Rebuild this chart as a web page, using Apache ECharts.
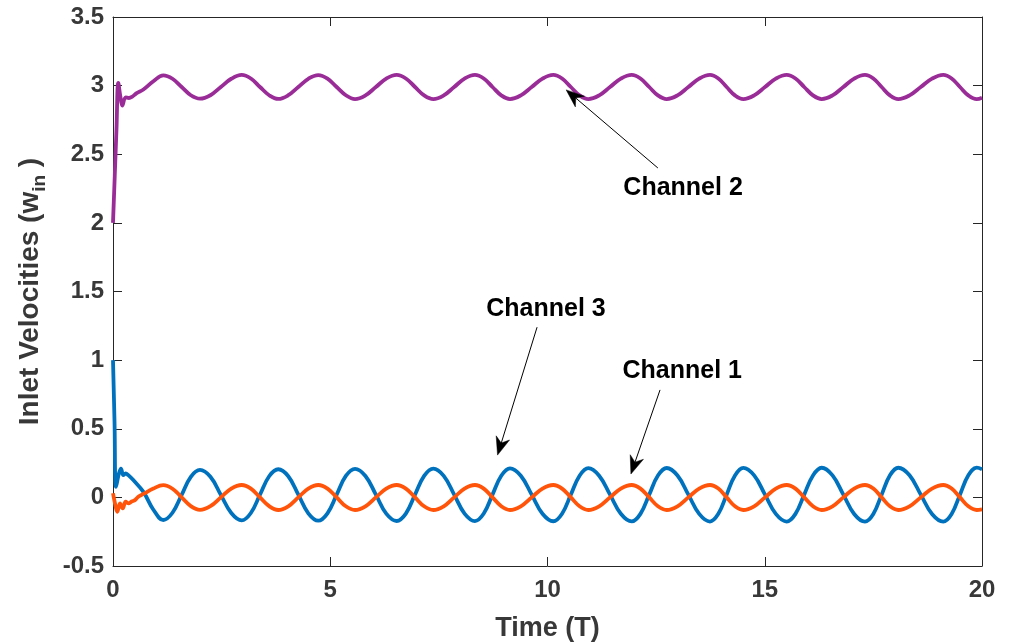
<!DOCTYPE html>
<html>
<head>
<meta charset="utf-8">
<title>Inlet Velocities</title>
<script src="https://cdn.jsdelivr.net/npm/echarts@6/dist/echarts.min.js"></script>
<style>
  html, body { margin: 0; padding: 0; background: #ffffff; }
  #chart { width: 1009px; height: 643px; }
</style>
</head>
<body>
<div id="chart"></div>
<script>
// Axis ticks
const xTicks = [0, 5, 10, 15, 20];
const yTicks = [-0.5, 0, 0.5, 1, 1.5, 2, 2.5, 3, 3.5];

// Start-up transient of each channel (time, value)
const ch1OnsetT = [0, 0.05, 0.099, 0.161, 0.223, 0.292, 0.352, 0.43, 0.506, 0.582, 0.70, 0.93];
const ch1OnsetV = [0.03, -0.05, -0.105, -0.044, -0.08, -0.032, -0.044, -0.03, -0.02, 0.005, 0.025, 0.065];

const ch2OnsetT = [0, 0.04, 0.08, 0.122, 0.17, 0.214, 0.292, 0.368, 0.444, 0.545, 0.70, 0.93];
const ch2OnsetV = [2.0, 2.34, 2.68, 3.02, 2.92, 2.855, 2.915, 2.91, 2.92, 2.945, 2.972, 3.032];

const ch3OnsetT = [0, 0.035, 0.07, 0.138, 0.184, 0.237, 0.292, 0.352, 0.467, 0.70, 0.93];
const ch3OnsetV = [1.0, 0.55, 0.077, 0.175, 0.21, 0.162, 0.175, 0.162, 0.126, 0.04, -0.09];

// Settled oscillation: shared time samples
const cycleT = [
  1.158, 1.369, 1.580, 1.791,  2.002, 2.242, 2.482, 2.722,
  2.962, 3.173, 3.383, 3.594,  3.804, 4.034, 4.265, 4.495,
  4.725, 4.936, 5.148, 5.359,  5.570, 5.810, 6.050, 6.289,
  6.529, 6.740, 6.951, 7.161,  7.372, 7.612, 7.852, 8.091,
  8.331, 8.533, 8.734, 8.936,  9.137, 9.386, 9.636, 9.885,
  10.134, 10.335, 10.537, 10.738,  10.939, 11.189, 11.439, 11.688,
  11.938, 12.139, 12.341, 12.542,  12.743, 12.992, 13.242, 13.491,
  13.740, 13.932, 14.123, 14.315,  14.506, 14.756, 15.006, 15.255,
  15.505, 15.707, 15.908, 16.110,  16.311, 16.560, 16.809, 17.058,
  17.307, 17.499, 17.690, 17.882,  18.073, 18.332, 18.591, 18.850,
  19.109, 19.301, 19.493, 19.686,  19.878, 20.0
];

// Channel 1 (orange)
const ch1Cycle = [
  0.089, 0.063, 0, -0.064,  -0.091, -0.064, 0, 0.064,
  0.090, 0.064, 0, -0.064,  -0.092, -0.065, 0, 0.064,
  0.090, 0.064, 0, -0.065,  -0.092, -0.065, 0, 0.064,
  0.090, 0.064, 0, -0.065,  -0.092, -0.065, 0, 0.064,
  0.090, 0.064, 0, -0.065,  -0.092, -0.065, 0, 0.064,
  0.090, 0.064, 0, -0.065,  -0.092, -0.065, 0, 0.064,
  0.090, 0.064, 0, -0.065,  -0.092, -0.065, 0, 0.064,
  0.090, 0.064, 0, -0.065,  -0.092, -0.065, 0, 0.064,
  0.090, 0.064, 0, -0.065,  -0.092, -0.065, 0, 0.064,
  0.090, 0.064, 0, -0.065,  -0.092, -0.065, 0, 0.064,
  0.090, 0.064, 0, -0.065,  -0.092, -0.088
];

// Channel 2 (purple)
const ch2Cycle = [
  3.075, 3.050, 2.990, 2.930,  2.905, 2.930, 2.990, 3.050,
  3.078, 3.052, 2.990, 2.930,  2.903, 2.930, 2.990, 3.050,
  3.077, 3.051, 2.990, 2.930,  2.902, 2.929, 2.990, 3.051,
  3.078, 3.052, 2.990, 2.929,  2.902, 2.929, 2.990, 3.051,
  3.078, 3.052, 2.990, 2.929,  2.902, 2.929, 2.990, 3.051,
  3.078, 3.052, 2.990, 2.929,  2.902, 2.929, 2.990, 3.051,
  3.078, 3.052, 2.990, 2.929,  2.902, 2.929, 2.990, 3.051,
  3.078, 3.052, 2.990, 2.929,  2.902, 2.929, 2.990, 3.051,
  3.078, 3.052, 2.990, 2.929,  2.902, 2.929, 2.990, 3.051,
  3.078, 3.052, 2.990, 2.929,  2.902, 2.929, 2.990, 3.051,
  3.078, 3.052, 2.990, 2.929,  2.902, 2.912
];

// Channel 3 (blue)
const ch3Cycle = [
  -0.165, -0.112, 0.018, 0.150,  0.200, 0.150, 0.018, -0.114,
  -0.168, -0.114, 0.020, 0.154,  0.205, 0.154, 0.020, -0.116,
  -0.170, -0.116, 0.020, 0.156,  0.208, 0.156, 0.020, -0.118,
  -0.172, -0.118, 0.020, 0.157,  0.210, 0.157, 0.020, -0.118,
  -0.173, -0.118, 0.020, 0.158,  0.212, 0.158, 0.020, -0.119,
  -0.174, -0.119, 0.020, 0.158,  0.213, 0.158, 0.020, -0.119,
  -0.175, -0.120, 0.020, 0.159,  0.214, 0.159, 0.020, -0.120,
  -0.176, -0.120, 0.020, 0.160,  0.215, 0.160, 0.020, -0.120,
  -0.176, -0.120, 0.020, 0.160,  0.216, 0.160, 0.020, -0.121,
  -0.177, -0.121, 0.020, 0.161,  0.216, 0.161, 0.020, -0.121,
  -0.177, -0.121, 0.020, 0.161,  0.217, 0.205
];

// Callout labels and their arrows (data coordinates)
const calloutText = ['Channel 2', 'Channel 3', 'Channel 1'];
const calloutAt   = [[13.12, 2.254], [9.966, 1.374], [13.10, 0.922]];
const arrowFrom   = [[12.54, 2.40], [9.76, 1.24], [12.59, 0.783]];
const arrowTo     = [[10.43, 2.969], [8.85, 0.308], [11.92, 0.170]];

function joinSeries(onT, onV, cyc) {
  const pts = onT.map((t, i) => [t, onV[i]]);
  cycleT.forEach((t, i) => pts.push([t, cyc[i]]));
  return pts;
}

const FONT = '"Liberation Sans", Arial, Helvetica, sans-serif';
const AXIS_COLOR = '#262626';
const LABEL_COLOR = '#383838';

const chart = echarts.init(document.getElementById('chart'), null, { renderer: 'canvas' });

const baseX = {
  type: 'value',
  min: xTicks[0],
  max: xTicks[xTicks.length - 1],
  interval: xTicks[1] - xTicks[0],
  splitLine: { show: false },
  axisLine: { show: true, onZero: false, lineStyle: { color: AXIS_COLOR, width: 1 } },
  axisTick: { show: true, inside: true, length: 9, lineStyle: { color: AXIS_COLOR, width: 1 } }
};
const baseY = {
  type: 'value',
  min: yTicks[0],
  max: yTicks[yTicks.length - 1],
  interval: yTicks[1] - yTicks[0],
  splitLine: { show: false },
  axisLine: { show: true, onZero: false, lineStyle: { color: AXIS_COLOR, width: 1 } },
  axisTick: { show: true, inside: true, length: 9, lineStyle: { color: AXIS_COLOR, width: 1 } }
};

const option = {
  animation: false,
  backgroundColor: '#ffffff',
  textStyle: { fontFamily: FONT },
  grid: { left: 113, right: 27, top: 17, bottom: 77, containLabel: false, outerBoundsMode: 'none' },
  xAxis: [
    Object.assign({}, baseX, {
      position: 'bottom',
      name: 'Time (T)',
      nameLocation: 'middle',
      nameGap: 49,
      nameTextStyle: { fontSize: 27, fontWeight: 'bold', color: LABEL_COLOR, fontFamily: FONT },
      axisLabel: { show: true, margin: 12, fontSize: 24, fontWeight: 'bold', color: LABEL_COLOR, fontFamily: FONT }
    }),
    Object.assign({}, baseX, { position: 'top', axisLabel: { show: false } })
  ],
  yAxis: [
    Object.assign({}, baseY, {
      position: 'left',
      name: 'Inlet Velocities (w{sub|in} )',
      nameLocation: 'middle',
      nameGap: 64,
      nameTextStyle: {
        fontSize: 28, fontWeight: 'bold', color: LABEL_COLOR, fontFamily: FONT, lineHeight: 38,
        rich: { sub: { fontSize: 19, fontWeight: 'bold', color: LABEL_COLOR, fontFamily: FONT, lineHeight: 38, verticalAlign: 'bottom' } }
      },
      axisLabel: { show: true, margin: 9, fontSize: 24, fontWeight: 'bold', color: LABEL_COLOR, fontFamily: FONT }
    }),
    Object.assign({}, baseY, { position: 'right', axisLabel: { show: false } })
  ],
  series: [
    {
      name: 'Channel 2', type: 'line', xAxisIndex: 0, yAxisIndex: 0,
      data: joinSeries(ch2OnsetT, ch2OnsetV, ch2Cycle),
      showSymbol: false, symbol: 'none', smooth: 0.4,
      lineStyle: { color: '#9A2C98', width: 3.8 }, z: 3
    },
    {
      name: 'Channel 3', type: 'line', xAxisIndex: 0, yAxisIndex: 0,
      data: joinSeries(ch3OnsetT, ch3OnsetV, ch3Cycle),
      showSymbol: false, symbol: 'none', smooth: 0.4,
      lineStyle: { color: '#0072BD', width: 3.8 }, z: 3
    },
    {
      name: 'Channel 1', type: 'line', xAxisIndex: 0, yAxisIndex: 0,
      data: joinSeries(ch1OnsetT, ch1OnsetV, ch1Cycle),
      showSymbol: false, symbol: 'none', smooth: 0.4,
      lineStyle: { color: '#FF540A', width: 3.8 }, z: 4
    }
  ]
};

chart.setOption(option);

// Callouts: text plus a line ending in a notched arrowhead
function buildCallouts() {
  const toPx = p => chart.convertToPixel({ xAxisIndex: 0, yAxisIndex: 0 }, p);
  const els = [];
  const headLen = 18, headHalf = 7, notch = 0.7;
  calloutText.forEach((txt, i) => {
    const c = toPx(calloutAt[i]);
    els.push({
      type: 'text', z: 10,
      style: {
        text: txt, x: c[0], y: c[1], align: 'center', verticalAlign: 'middle',
        fontFamily: FONT, fontSize: 25, fontWeight: 'bold', fill: '#000000'
      }
    });
    const a = toPx(arrowFrom[i]);
    const b = toPx(arrowTo[i]);
    const dx = b[0] - a[0], dy = b[1] - a[1];
    const len = Math.hypot(dx, dy);
    const ux = dx / len, uy = dy / len;
    const nx = -uy, ny = ux;
    const back = [b[0] - headLen * ux, b[1] - headLen * uy];
    const mid = [b[0] - headLen * notch * ux, b[1] - headLen * notch * uy];
    els.push({
      type: 'line', z: 10,
      shape: { x1: a[0], y1: a[1], x2: mid[0], y2: mid[1] },
      style: { stroke: '#000000', lineWidth: 1 }
    });
    els.push({
      type: 'polygon', z: 10,
      shape: { points: [
        [b[0], b[1]],
        [back[0] + headHalf * nx, back[1] + headHalf * ny],
        [mid[0], mid[1]],
        [back[0] - headHalf * nx, back[1] - headHalf * ny]
      ] },
      style: { fill: '#000000', stroke: '#000000', lineWidth: 0.5 }
    });
  });
  chart.setOption({ graphic: els });
}
buildCallouts();
</script>
</body>
</html>
